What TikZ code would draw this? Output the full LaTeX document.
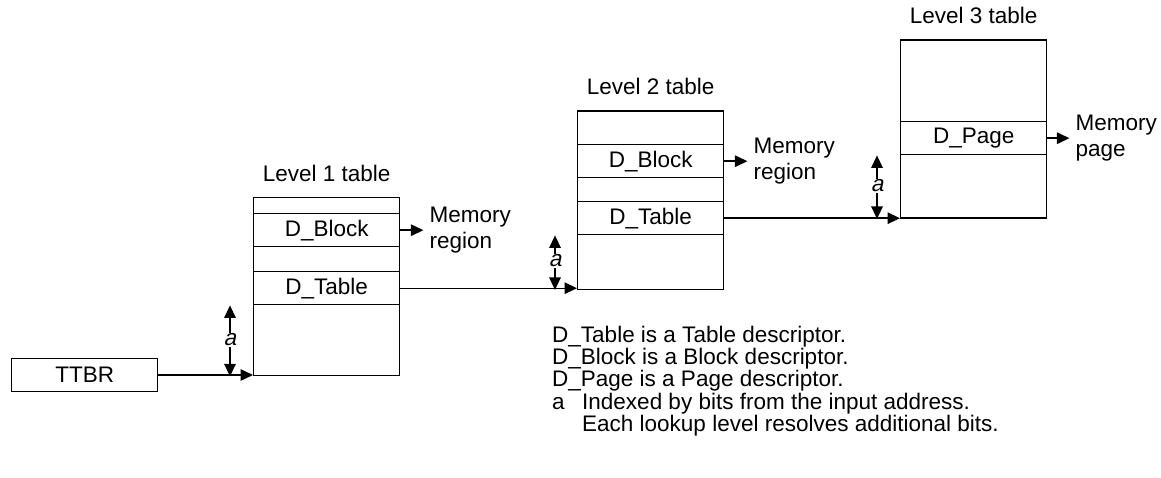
\documentclass[tikz,border=0pt]{standalone}
\usepackage{fontspec}
\setmainfont{Liberation Sans}
\newfontfamily\obliquesans[FakeSlant=0.21]{Liberation Sans}
\usetikzlibrary{arrows.meta,positioning}
\begin{document}
\begin{tikzpicture}[x=1pt,y=-1pt,
  every node/.style={font=\fontsize{22.5}{26.5}\selectfont},
  tablebox/.style={draw, line width=1.4pt, minimum width=146pt, minimum height=178pt,
                   anchor=north west, inner sep=0pt},
  rowbox/.style={draw, line width=1.4pt, minimum width=146pt, minimum height=33pt,
                 anchor=north west, inner sep=0pt},
  conn/.style={line width=1.4pt, -{Triangle[length=12.5pt,width=11.5pt]}},
  memlbl/.style={align=left, inner xsep=6pt, inner ysep=0pt, anchor=west},
  idx/.style={font=\fontsize{22.5}{26.5}\obliquesans, inner sep=1pt},
  legend/.style={anchor=base west, inner sep=0pt}
]
\useasboundingbox (0,0) rectangle (1161,478);

% Level 1 table
\node[tablebox] (l1) at (253,197) {};
\node[rowbox] (l1blk) at (253,213) {D\_Block};
\node[rowbox] (l1tab) at (253,271) {D\_Table};
\node (l1cap) at ([yshift=24pt]l1.north) {Level 1 table};

% Level 2 table
\node[tablebox] (l2) at (577,110.5) {};
\node[rowbox] (l2blk) at (577,144) {D\_Block};
\node[rowbox] (l2tab) at (577,201) {D\_Table};
\node (l2cap) at ([yshift=24pt]l2.north) {Level 2 table};

% Level 3 table
\node[tablebox] (l3) at (900,39.5) {};
\node[rowbox] (l3pg) at (900,121) {D\_Page};
\node (l3cap) at ([yshift=24pt]l3.north) {Level 3 table};

% Translation table base register
\node[draw, line width=1.4pt, minimum width=146pt, minimum height=33pt,
      anchor=west, inner sep=0pt] (ttbr) at (11,375) {TTBR};

% Output regions
\node[memlbl, right=23pt of l1blk] (mr1) {Memory\\region};
\node[memlbl, right=23pt of l2blk] (mr2) {Memory\\region};
\node[memlbl, right=22pt of l3pg] (mp3) {Memory\\page};

% Links between levels
\draw[conn] (ttbr.east) -- (ttbr.east -| l1.west);
\draw[conn] (l1tab.east) -- (l1tab.east -| l2.west);
\draw[conn] (l2tab.east) -- (l2tab.east -| l3.west);
\draw[conn] (l1blk.east) -- (mr1.west);
\draw[conn] (l2blk.east) -- (mr2.west);
\draw[conn] (l3pg.east) -- (mp3.west);

% Index offsets into each table
\node[idx] (a1) at (230,340) {a};
\draw[conn] (a1.north) -- (a1 |- l1tab.south);
\draw[conn] (a1.south) -- (a1 |- l1.south);

\node[idx] (a2) at (555,261) {a};
\draw[conn] (a2.north) -- (a2 |- l2tab.south);
\draw[conn] (a2.south) -- (a2 |- l2.south);

\node[idx] (a3) at (877,186) {a};
\draw[conn] (a3.north) -- (a3 |- l3pg.south);
\draw[conn] (a3.south) -- (a3 |- l3.south);

% Key
\node[legend] (k1) at (552,342) {D\_Table is a Table descriptor.};
\node[legend] (k2) at (552,364) {D\_Block is a Block descriptor.};
\node[legend] (k3) at (552,386) {D\_Page is a Page descriptor.};
\node[legend] (k4) at (552,409) {a};
\node[legend] (k5) at (582,409) {Indexed by bits from the input address.};
\node[legend] (k6) at (582,431) {Each lookup level resolves additional bits.};
\end{tikzpicture}
\end{document}
